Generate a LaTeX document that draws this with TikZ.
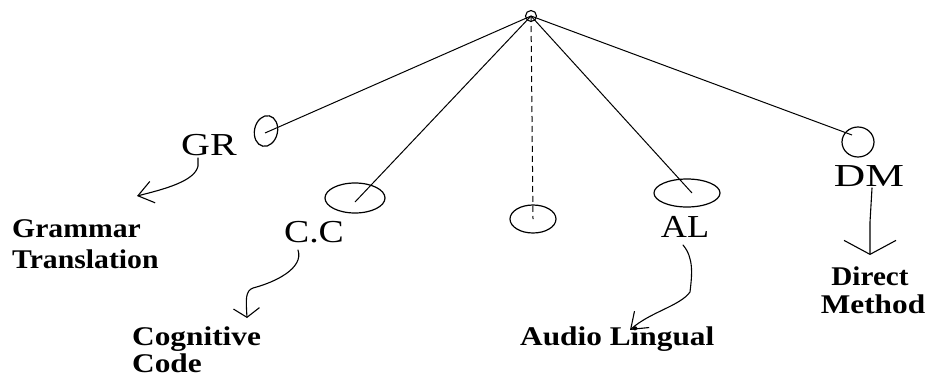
\documentclass[tikz,border=0pt]{standalone}
\usepackage{fontspec}
\usepackage{graphicx}
\setmainfont{Liberation Serif}
\usetikzlibrary{shapes.geometric,arrows.meta}
\newcommand\widetxt[2]{\scalebox{#1}[1]{#2}}
\begin{document}
\begin{tikzpicture}[x=1pt,y=-1pt,
  ln/.style={line width=1pt,black},
  oval/.style={draw, ellipse, inner sep=0pt, line width=1.2pt},
  big/.style={font=\fontsize{32}{32}\selectfont, inner sep=0pt, anchor=base},
  lbl/.style={font=\fontsize{27}{27}\selectfont\bfseries, inner sep=0pt, anchor=base west},
  hand/.style={line width=1.1pt, line cap=round, line join=round}]
\useasboundingbox (0,0) rectangle (931,378);
\fill[white] (0,0) rectangle (931,378);

% root
\node[draw, circle, inner sep=0pt, minimum size=11pt, line width=1.1pt] (top) at (531,16) {};

% ovals
\node[oval, minimum width=23pt, minimum height=31pt, rotate=-12] (grO) at (266,131) {};
\node[oval, minimum width=60pt, minimum height=30pt] (ccO) at (355,198) {};
\node[oval, minimum width=46pt, minimum height=28pt] (midO) at (533,219) {};
\node[oval, minimum width=66pt, minimum height=28pt] (alO) at (687,193) {};
\node[oval, minimum width=32pt, minimum height=30pt] (dmO) at (858,142) {};

\coordinate (grIn) at (265,133);
\coordinate (ccIn) at (355,202);
\coordinate (midIn) at (533,219);
\coordinate (alIn) at (692,193);
\coordinate (dmIn) at (852,135);

\draw[ln] (top.center) -- (grIn);
\draw[ln] (top.center) -- (ccIn);
\draw[ln, dash pattern=on 6pt off 4pt] (top.center) -- (midIn);
\draw[ln] (top.center) -- (alIn);
\draw[ln] (top.center) -- (dmIn);

% big labels
\node[big] (gr) at (209,155) {\widetxt{1.25}{GR}};
\node[big] (cc) at (314,242) {\widetxt{1.18}{C.C}};
\node[big] (al) at (685,237) {\widetxt{1.13}{AL}};
\node[big] (dm) at (869,186) {\widetxt{1.36}{DM}};

% bold labels
\node[lbl] (gt1) at (12,237) {\widetxt{1.1}{Grammar}};
\node[lbl] (gt2) at (12,268) {\widetxt{1.1}{Translation}};
\node[lbl] (cg1) at (132,345) {\widetxt{1.16}{Cognitive}};
\node[lbl] (cg2) at (132,372) {\widetxt{1.16}{Code}};
\node[lbl] (au) at (520,345) {\widetxt{1.16}{Audio Lingual}};
\node[lbl, anchor=base] (dr1) at (870,285) {\widetxt{1.08}{Direct}};
\node[lbl, anchor=base] (dr2) at (873,313) {\widetxt{1.16}{Method}};

% hand-drawn arrows
\coordinate (grS) at (198,158);
\coordinate (grT) at (137,196);
\coordinate (ccS) at (298,250);
\coordinate (ccT) at (247,318);
\coordinate (alS) at (683,245);
\coordinate (alT) at (630,330);
\coordinate (dmS) at (872,188);
\coordinate (dmT) at (870,255);

\draw[hand, -{Straight Barb[length=15pt,width=22pt,line width=1.1pt]}]
  (grS) -- (198,166) .. controls (195,181) and (165,189) .. (grT);
\draw[hand, -{Straight Barb[length=9pt,width=26pt,line width=1.1pt]}]
  (ccS) .. controls (304,268) and (276,282) .. (253,288)
  .. controls (245,291) and (246,300) .. (ccT);
\draw[hand, -{Straight Barb[length=15pt,width=22pt,line width=1.1pt]}]
  (alS) .. controls (694,258) and (692,275) .. (690,292)
  .. controls (680,306) and (650,312) .. (alT);
\draw[hand, -{Straight Barb[length=14pt,width=52pt,line width=1.1pt]}]
  (dmS) -- (870,222) -- (dmT);
\end{tikzpicture}
\end{document}
